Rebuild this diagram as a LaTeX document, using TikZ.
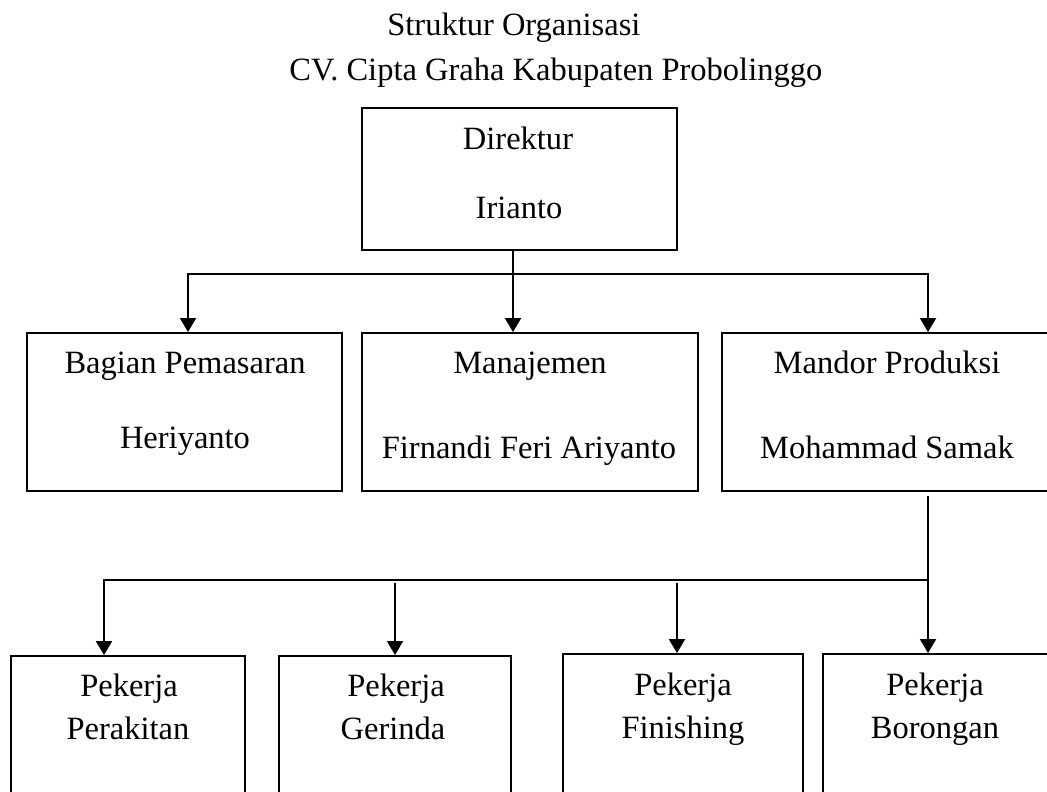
\documentclass[tikz,border=0pt]{standalone}
\usepackage{fontspec}
\setmainfont{Liberation Serif}
\usetikzlibrary{arrows.meta}

\tikzset{
  kotak/.style={draw, line width=1.1pt, inner sep=0pt},
  teks/.style={anchor=base, inner sep=0pt, font=\fontsize{18.5}{22}\selectfont},
  judul/.style={anchor=base west, inner sep=0pt, font=\fontsize{18.5}{22}\selectfont},
  garis/.style={line width=1.1pt},
  panah/.style={line width=1.1pt, -{Triangle[length=0.28cm,width=0.32cm]}},
  panahdua/.style={line width=1.1pt, {Triangle[length=0.28cm,width=0.32cm]}-{Triangle[length=0.28cm,width=0.32cm]}},
}

\begin{document}
\begin{tikzpicture}[x=0.02cm, y=-0.02cm]
            \useasboundingbox (0,0) rectangle (1047,791);

            % judul
            \node[judul] (jdl1) at (387,35) {Struktur Organisasi};
            \node[judul] (jdl2) at (289,80) {CV. Cipta Graha Kabupaten Probolinggo};

            % kotak
            \node[kotak, minimum width=6.3cm, minimum height=2.84cm] (dir) at (519.5,179) {};
            \node[kotak, minimum width=6.3cm, minimum height=3.16cm] (bag) at (184.5,412) {};
            \node[kotak, minimum width=6.72cm, minimum height=3.16cm] (man) at (530,412) {};
            \node[kotak, minimum width=6.66cm, minimum height=3.16cm] (mdr) at (888.5,412) {};
            \node[kotak, minimum width=4.68cm, minimum height=3.48cm] (per) at (128,743) {};
            \node[kotak, minimum width=4.64cm, minimum height=3.48cm] (ger) at (395,743) {};
            \node[kotak, minimum width=4.8cm, minimum height=3.52cm] (fin) at (683,742) {};
            \node[kotak, minimum width=4.8cm, minimum height=3.52cm] (bor) at (943,742) {};

            % isi kotak
            \node[teks] (dirA) at (518,149) {Direktur};
            \node[teks] (dirB) at (519,218) {Irianto};
            \node[teks] (bagA) at (185,373) {Bagian Pemasaran};
            \node[teks] (bagB) at (185,448) {Heriyanto};
            \node[teks] (manA) at (530,373) {Manajemen};
            \node[teks] (manB) at (529,458) {Firnandi Feri Ariyanto};
            \node[teks] (mdrA) at (887,373) {Mandor Produksi};
            \node[teks] (mdrB) at (887,458) {Mohammad Samak};
            \node[teks] (perA) at (129,696) {Pekerja};
            \node[teks] (perB) at (128,739) {Perakitan};
            \node[teks] (gerA) at (396,696) {Pekerja};
            \node[teks] (gerB) at (393,739) {Gerinda};
            \node[teks] (finA) at (683,695) {Pekerja};
            \node[teks] (finB) at (683,738) {Finishing};
            \node[teks] (borA) at (935,695) {Pekerja};
            \node[teks] (borB) at (935,738) {Borongan};

            % titik bantu
            \coordinate (p0) at (513,274);
            \coordinate (kiri1) at (188,274);
            \coordinate (kanan1) at (928,274);
            \coordinate (kiri2) at (104,580);
            \coordinate (tengah) at (928,580);
            \coordinate (g0) at (395,583);
            \coordinate (f0) at (677,583);

            % garis
            \draw[panah] (p0 |- dir.south) -- (p0 |- man.north);
            \draw[panahdua] (kiri1 |- bag.north) -- (kiri1) -- (kanan1) -- (kanan1 |- mdr.north);
            \draw[panah, shorten <=0.08cm] (tengah |- mdr.south) -- (tengah |- bor.north);
            \draw[panah] (tengah) -- (kiri2) -- (kiri2 |- per.north);
            \draw[panah] (g0) -- (g0 |- ger.north);
            \draw[panah] (f0) -- (f0 |- fin.north);

        \end{tikzpicture}
\end{document}
